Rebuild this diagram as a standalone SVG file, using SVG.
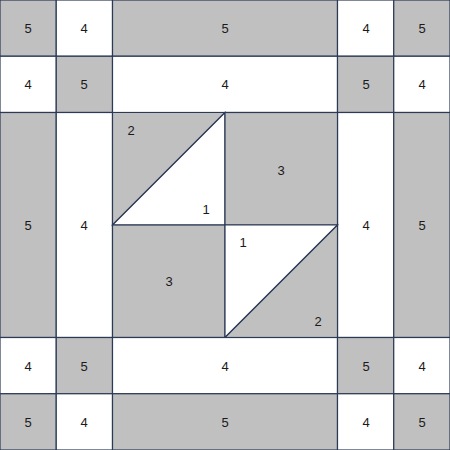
<svg xmlns="http://www.w3.org/2000/svg" width="450" height="450" viewBox="0 0 450 450">
<style>
.g{fill:#c0c0c0;stroke:#2b3a55;stroke-width:1.2}
.w{fill:#ffffff;stroke:#2b3a55;stroke-width:1.2}
text{font-family:"Liberation Sans",Arial,sans-serif;font-size:13px;fill:#1a1a1a;text-anchor:middle;dominant-baseline:central}
</style>
<rect x="0" y="0" width="450" height="450" fill="#ffffff"/>
<g id="row0">
<rect class="g" x="0" y="0" width="56.25" height="56.25"/>
<rect class="w" x="56.25" y="0" width="56.25" height="56.25"/>
<rect class="g" x="112.5" y="0" width="225" height="56.25"/>
<rect class="w" x="337.5" y="0" width="56.25" height="56.25"/>
<rect class="g" x="393.75" y="0" width="56.25" height="56.25"/>
<text x="28" y="28">5</text><text x="84" y="28">4</text><text x="225" y="28">5</text><text x="366" y="28">4</text><text x="422" y="28">5</text>
</g>
<g id="row1">
<rect class="w" x="0" y="56.25" width="56.25" height="56.25"/>
<rect class="g" x="56.25" y="56.25" width="56.25" height="56.25"/>
<rect class="w" x="112.5" y="56.25" width="225" height="56.25"/>
<rect class="g" x="337.5" y="56.25" width="56.25" height="56.25"/>
<rect class="w" x="393.75" y="56.25" width="56.25" height="56.25"/>
<text x="28" y="84">4</text><text x="84" y="84">5</text><text x="225" y="84">4</text><text x="366" y="84">5</text><text x="422" y="84">4</text>
</g>
<g id="sides">
<rect class="g" x="0" y="112.5" width="56.25" height="225"/>
<rect class="w" x="56.25" y="112.5" width="56.25" height="225"/>
<rect class="w" x="337.5" y="112.5" width="56.25" height="225"/>
<rect class="g" x="393.75" y="112.5" width="56.25" height="225"/>
<text x="28" y="225">5</text><text x="84" y="225">4</text><text x="366" y="225">4</text><text x="422" y="225">5</text>
</g>
<g id="center">
<polygon class="g" points="112.5,112.5 225,112.5 112.5,225"/>
<polygon class="w" points="225,112.5 225,225 112.5,225"/>
<rect class="g" x="225" y="112.5" width="112.5" height="112.5"/>
<rect class="g" x="112.5" y="225" width="112.5" height="112.5"/>
<polygon class="w" points="225,225 337.5,225 225,337.5"/>
<polygon class="g" points="337.5,225 337.5,337.5 225,337.5"/>
<text x="131" y="130">2</text><text x="206" y="209">1</text><text x="281" y="170">3</text>
<text x="243" y="242">1</text><text x="169" y="281">3</text><text x="318" y="321">2</text>
</g>
<g id="row4">
<rect class="w" x="0" y="337.5" width="56.25" height="56.25"/>
<rect class="g" x="56.25" y="337.5" width="56.25" height="56.25"/>
<rect class="w" x="112.5" y="337.5" width="225" height="56.25"/>
<rect class="g" x="337.5" y="337.5" width="56.25" height="56.25"/>
<rect class="w" x="393.75" y="337.5" width="56.25" height="56.25"/>
<text x="28" y="366">4</text><text x="84" y="366">5</text><text x="225" y="366">4</text><text x="366" y="366">5</text><text x="422" y="366">4</text>
</g>
<g id="row5">
<rect class="g" x="0" y="393.75" width="56.25" height="56.25"/>
<rect class="w" x="56.25" y="393.75" width="56.25" height="56.25"/>
<rect class="g" x="112.5" y="393.75" width="225" height="56.25"/>
<rect class="w" x="337.5" y="393.75" width="56.25" height="56.25"/>
<rect class="g" x="393.75" y="393.75" width="56.25" height="56.25"/>
<text x="28" y="422">5</text><text x="84" y="422">4</text><text x="225" y="422">5</text><text x="366" y="422">4</text><text x="422" y="422">5</text>
</g>
</svg>
